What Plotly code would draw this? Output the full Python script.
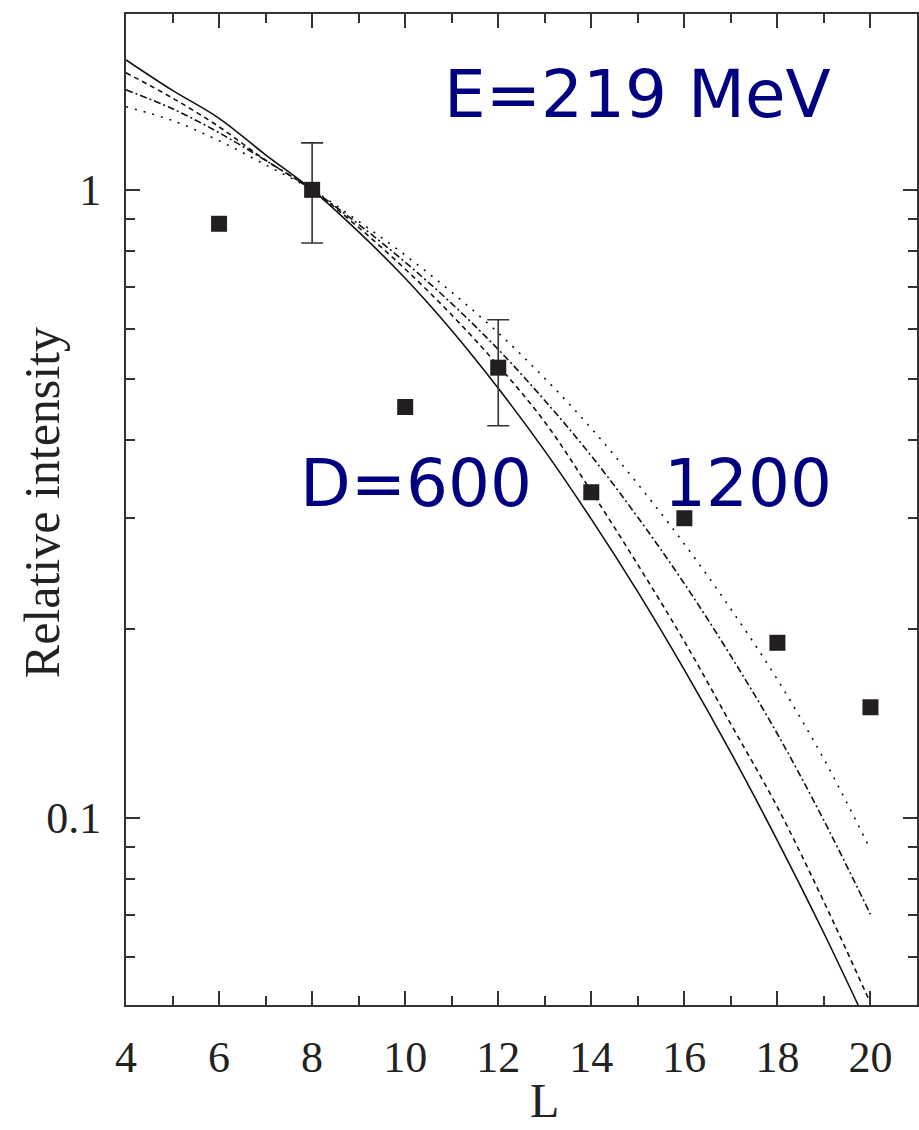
import plotly.graph_objects as go

# ---- data ----
L_curve = [4, 5, 6, 7, 8, 9, 10, 11, 12, 13, 14, 15, 16, 17, 18, 19, 20]
solid   = [1.61, 1.44, 1.30, 1.137, 1.0, 0.857, 0.723, 0.597, 0.483, 0.384, 0.299, 0.229, 0.172, 0.127, 0.092, 0.0655, 0.0457]
dashed  = [1.536, 1.40, 1.26, 1.115, 1.0, 0.871, 0.748, 0.632, 0.525, 0.427, 0.331, 0.253, 0.191, 0.141, 0.104, 0.0735, 0.0507]
dashdot = [1.443, 1.346, 1.233, 1.114, 1.0, 0.881, 0.767, 0.659, 0.557, 0.462, 0.377, 0.301, 0.236, 0.181, 0.136, 0.099, 0.0702]
dotted  = [1.356, 1.289, 1.197, 1.096, 1.0, 0.891, 0.787, 0.687, 0.592, 0.501, 0.417, 0.340, 0.273, 0.215, 0.166, 0.124, 0.089]

L_data = [6, 10, 14, 16, 18, 20]
I_data = [0.883, 0.451, 0.330, 0.300, 0.190, 0.150]

L_err = [8, 12]
I_err = [1.0, 0.521]
err_plus = [0.188, 0.100]
err_minus = [0.177, 0.100]

x_ticks = [4, 6, 8, 10, 12, 14, 16, 18, 20]
y_ticks = [0.1, 1]
y_ticktext = ["0.1", "1"]
y_minor = [0.06, 0.07, 0.08, 0.09, 0.2, 0.3, 0.4, 0.5, 0.6, 0.7, 0.8, 0.9]

fig = go.Figure()

for ys, dash in [(solid, "solid"), (dashed, "5px,4px"), (dashdot, "7px,3px,2px,3px"), (dotted, "2px,7px")]:
    fig.add_trace(go.Scatter(x=L_curve, y=ys, mode="lines",
                             line=dict(color="#111111", width=1.6, dash=dash, shape="spline"),
                             showlegend=False))

marker_style = dict(symbol="square", size=16, color="#231f20")
fig.add_trace(go.Scatter(x=L_data, y=I_data, mode="markers", marker=marker_style, showlegend=False))
fig.add_trace(go.Scatter(
    x=L_err, y=I_err, mode="markers", marker=marker_style,
    error_y=dict(type="data", symmetric=False, array=err_plus, arrayminus=err_minus,
                 color="#333333", thickness=1.6, width=11),
    showlegend=False))

axis_font = dict(family="Liberation Serif, Times New Roman, serif", size=44, color="#222222")

fig.update_layout(
    width=919, height=1130,
    margin=dict(l=126, r=0, t=14, b=125),
    plot_bgcolor="white", paper_bgcolor="white",
    xaxis=dict(range=[4, 21], tickmode="array", tickvals=x_ticks,
               ticks="inside", ticklen=14, tickwidth=1.5, tickcolor="#333333",
               showline=True, linecolor="#333333", linewidth=2, mirror="ticks",
               showgrid=False, zeroline=False, tickfont=axis_font, ticklabelstandoff=12,
               minor=dict(dtick=1, tick0=0, ticks="inside", ticklen=9, tickwidth=1.5,
                          tickcolor="#333333", showgrid=False)),
    yaxis=dict(type="log", range=[-1.298, 0.280], tickmode="array", tickvals=y_ticks,
               ticktext=y_ticktext,
               ticks="inside", ticklen=14, tickwidth=1.5, tickcolor="#333333",
               showline=True, linecolor="#333333", linewidth=2, mirror="ticks",
               showgrid=False, zeroline=False, tickfont=axis_font, ticklabelstandoff=14,
               minor=dict(tickmode="array", tickvals=y_minor, ticks="inside", ticklen=9,
                          tickwidth=1.5, tickcolor="#333333", showgrid=False)),
)

def px(xp):
    return (xp - 126) / 793.0

def py(yp):
    return (1005 - yp) / 991.0

label_font = dict(family="DejaVu Sans, Verdana, sans-serif", size=66, color="#000080")
fig.add_annotation(text="E=219 MeV", xref="paper", yref="paper", x=px(443), y=py(95),
                   xanchor="left", yanchor="middle", showarrow=False, font=label_font)
fig.add_annotation(text="D=600", xref="paper", yref="paper", x=px(298), y=py(483),
                   xanchor="left", yanchor="middle", showarrow=False, font=label_font)
fig.add_annotation(text="1200", xref="paper", yref="paper", x=px(663), y=py(483),
                   xanchor="left", yanchor="middle", showarrow=False, font=label_font)

title_font = dict(family="Liberation Serif, Times New Roman, serif", size=48, color="#222222")
fig.add_annotation(text="L", xref="paper", yref="paper", x=px(546), y=py(1129),
                   xanchor="center", yanchor="bottom", showarrow=False, font=title_font)
fig.add_annotation(text="Relative intensity", xref="paper", yref="paper", x=px(42), y=py(503),
                   xanchor="center", yanchor="middle", textangle=-90, showarrow=False,
                   font=dict(family="Liberation Serif, Times New Roman, serif", size=50, color="#222222"))

fig.write_html("out.html")
